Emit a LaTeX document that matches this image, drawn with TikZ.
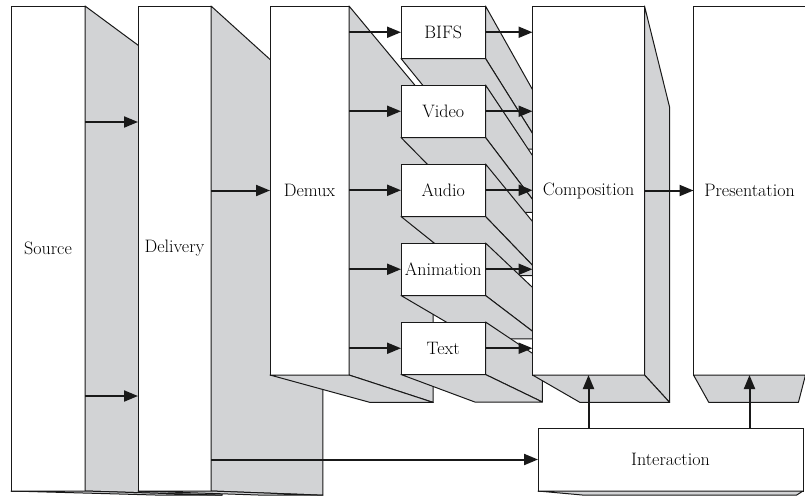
\documentclass[tikz,border=0pt]{standalone}
\usetikzlibrary{positioning}
\usetikzlibrary{calc}
\usetikzlibrary{arrows.meta}
\colorlet{border}{black!90}
\definecolor{side}{RGB}{210,211,213}
\newcommand\depth{0.2}
\newcommand\boxheight{485pt}
\newcommand\stageheight{369pt}
\newcommand\rightface[1]{
    \draw[face]
        (#1.north east)
        -- ($(#1.north east)!\depth!(vp)$)
        -- ($(#1.south east)!\depth!(vp)$)
        -- (#1.south east) -- cycle;
}
\newcommand\bottomface[1]{
    \draw[face]
        (#1.south west)
        -- (#1.south east)
        -- ($(#1.south east)!\depth!(vp)$)
        -- ($(#1.south west)!\depth!(vp)$) -- cycle;
}

\begin{document}
\begin{tikzpicture}[x=1pt, y=-1pt]
    \tikzset{
        front/.style={
            draw=border, fill=white, line width=1pt,
            rectangle, inner sep=0pt, outer sep=0pt, anchor=north west,
            font=\fontsize{18}{20}\selectfont,
        },
        face/.style={
            draw=border, fill=side, line width=1pt,
            line join=round,
        },
        flow/.style={
            border, line width=2pt,
            -{Triangle[length=14pt, width=11pt]},
        },
    }

    \useasboundingbox (0, 0) rectangle (805, 496);
    \coordinate (vp) at (770, 512);

    % Source and delivery
    \node[front, minimum width=74pt, minimum height=\boxheight]
        (source) at (11, 6) {Source};
    \rightface{source}
    \bottomface{source}

    \node[front, minimum width=73pt, minimum height=\boxheight,
        right=53pt of source.north east, anchor=north west]
        (delivery) {Delivery};
    \rightface{delivery}
    \bottomface{delivery}

    % Demux
    \node[front, minimum width=79pt, minimum height=\stageheight,
        right=59pt of delivery.north east, anchor=north west]
        (demux) {Demux};
    \rightface{demux}
    \bottomface{demux}

    % Decoders
    \tikzset{decoder/.style={front, minimum width=84.5pt, minimum height=52.5pt}}
    \node[decoder, right=52pt of demux.north east, anchor=north west] (bifs) {BIFS};
    \rightface{bifs}
    \bottomface{bifs}
    \node[decoder, below=26.5pt of bifs.south west, anchor=north west] (video) {Video};
    \rightface{video}
    \bottomface{video}
    \node[decoder, below=26.5pt of video.south west, anchor=north west] (audio) {Audio};
    \rightface{audio}
    \bottomface{audio}
    \node[decoder, below=26.5pt of audio.south west, anchor=north west] (animation) {Animation};
    \rightface{animation}
    \bottomface{animation}
    \node[decoder, below=26.5pt of animation.south west, anchor=north west] (text) {Text};
    \rightface{text}
    \bottomface{text}

    % Composition and presentation
    \node[front, minimum width=112pt, minimum height=\stageheight,
        right=47pt of bifs.north east, anchor=north west]
        (composition) {Composition};
    \rightface{composition}
    \bottomface{composition}

    \node[front, minimum width=112pt, minimum height=\stageheight,
        right=49pt of composition.north east, anchor=north west]
        (presentation) {Presentation};
    \bottomface{presentation}

    % Interaction
    \node[front, minimum width=265pt, minimum height=63pt]
        (interaction) at (538, 428) {Interaction};
    \bottomface{interaction}

    % Flows
    \draw[flow] ($(source.north east)+(0, 116)$) coordinate (source-top)
        -- (source-top -| delivery.west);
    \draw[flow] ($(source.north east)+(0, 390)$) coordinate (source-bottom)
        -- (source-bottom -| delivery.west);
    \draw[flow] (delivery.east |- demux.west) -- (demux.west);
    \foreach \decoder in {bifs, video, audio, animation, text} {
        \draw[flow] (demux.east |- \decoder.west) -- (\decoder.west);
        \draw[flow] (\decoder.east) -- (\decoder.east -| composition.west);
    }
    \draw[flow] (composition.east) -- (presentation.west);
    \draw[flow] (delivery.east |- interaction.west) -- (interaction.west);
    \draw[flow] (interaction.north -| composition.south) -- (composition.south);
    \draw[flow] (interaction.north -| presentation.south) -- (presentation.south);
\end{tikzpicture}
\end{document}
